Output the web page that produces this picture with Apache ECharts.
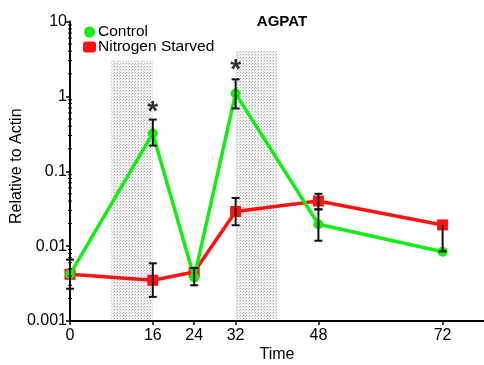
<!DOCTYPE html>
<html>
<head>
<meta charset="utf-8">
<script src="https://cdn.jsdelivr.net/npm/echarts@6/dist/echarts.min.js"></script>
<style>
  html, body { margin: 0; padding: 0; background: #fff; }
  #chart { width: 484px; height: 365px; }
</style>
</head>
<body>
<div id="chart"></div>
<script>
// Sampling times (h) and expression relative to actin
var times = [0, 16, 24, 32, 48, 72];
var controlMean = [0.0042, 0.32, 0.0038, 1.09, 0.0196, 0.0084];
var controlLow  = [0.0027, 0.22, 0.0030, 0.69, 0.0118, null];
var controlHigh = [0.0066, 0.49, 0.0051, 1.69, 0.031, null];
var starvedMean = [0.0042, 0.0035, 0.0045, 0.029, 0.040, 0.0192];
var starvedLow  = [null, 0.0021, null, 0.019, 0.031, 0.0085];
var starvedHigh = [null, 0.0059, null, 0.044, 0.050, null];

// Dark periods (shaded)
var shadeStart = [8, 32];
var shadeEnd   = [16, 40];
var shadeTop   = [3, 4];

// Significance marks
var starX = [16, 32];
var starY = [0.62, 2.2];

var xTicks = [0, 16, 24, 32, 48, 72];
var yMinorTicks = [];
[0.001, 0.01, 0.1, 1].forEach(function (d) {
  for (var k = 2; k <= 9; k++) yMinorTicks.push(+(d * k).toPrecision(3));
});

var FONT = 'Liberation Sans, Arial, sans-serif';

// stipple fill for shaded periods
var pat = document.createElement('canvas');
pat.width = 3; pat.height = 3;
var pc = pat.getContext('2d');
pc.fillStyle = '#f2f2f2'; pc.fillRect(0, 0, 3, 3);
pc.fillStyle = '#a8a8a8'; pc.fillRect(0, 0, 1, 1);
pc.fillStyle = '#cccccc'; pc.fillRect(2, 1, 1, 1);

function pairs(xs, ys) {
  return xs.map(function (x, i) { return [x, ys[i]]; });
}
function errData(mean, low, high) {
  return times.map(function (t, i) { return [t, mean[i], low[i], high[i]]; });
}

function renderErr(params, api) {
  var x = api.value(0), m = api.value(1), lo = api.value(2), hi = api.value(3);
  var hasLo = !isNaN(lo) && lo != null && lo > 0;
  var hasHi = !isNaN(hi) && hi != null && hi > 0;
  if (!hasLo && !hasHi) return;
  var pLo = api.coord([x, hasLo ? lo : m]);
  var pHi = api.coord([x, hasHi ? hi : m]);
  var w = 4;
  var children = [{
    type: 'line',
    shape: { x1: pLo[0], y1: pLo[1], x2: pHi[0], y2: pHi[1] },
    style: { stroke: '#111', lineWidth: 2 }
  }];
  if (hasLo) children.push({
    type: 'line', shape: { x1: pLo[0] - w, y1: pLo[1], x2: pLo[0] + w, y2: pLo[1] },
    style: { stroke: '#111', lineWidth: 2 }
  });
  if (hasHi) children.push({
    type: 'line', shape: { x1: pHi[0] - w, y1: pHi[1], x2: pHi[0] + w, y2: pHi[1] },
    style: { stroke: '#111', lineWidth: 2 }
  });
  return { type: 'group', children: children };
}

var chart = echarts.init(document.getElementById('chart'), null, { renderer: 'canvas' });

chart.setOption({
  animation: false,
  backgroundColor: '#fff',
  title: {
    text: 'AGPAT', left: 277, top: 9, textAlign: 'center',
    textStyle: { fontFamily: FONT, fontSize: 15, fontWeight: 'bold', color: '#000' }
  },
  legend: {
    left: 78, top: 19, orient: 'vertical', itemGap: -1,
    itemWidth: 13, itemHeight: 11,
    textStyle: { fontFamily: FONT, fontSize: 15.5, lineHeight: 13, color: '#000', padding: [0, 0, 0, -3] },
    data: [
      { name: 'Control', icon: 'circle', itemStyle: { color: '#11ee11' } },
      { name: 'Nitrogen Starved', icon: 'roundRect', itemStyle: { color: '#ff1111' } }
    ]
  },
  grid: { left: 70, right: 0, top: 21.5, bottom: 44, containLabel: false, outerBoundsMode: 'none' },
  xAxis: {
    type: 'value', min: 0, max: 80,
    name: 'Time', nameLocation: 'middle', nameGap: 26, nameMoveOverlap: false,
    nameTextStyle: { fontFamily: FONT, fontSize: 16, color: '#000' },
    axisLine: { lineStyle: { color: '#000', width: 2 } },
    axisTick: { show: true, customValues: xTicks, length: 4, lineStyle: { color: '#000', width: 1.5 } },
    axisLabel: { customValues: xTicks, fontFamily: FONT, fontSize: 16, color: '#000', margin: 7 },
    splitLine: { show: false }
  },
  yAxis: {
    type: 'log', logBase: 10, min: 0.001, max: 10,
    name: 'Relative to Actin', nameLocation: 'middle', nameGap: 45, nameRotate: 90, nameMoveOverlap: false,
    nameTextStyle: { fontFamily: FONT, fontSize: 16, color: '#000', padding: [0, 0, 0, 10] },
    axisLine: { show: true, lineStyle: { color: '#000', width: 2 } },
    axisTick: { show: true, length: 4, lineStyle: { color: '#000', width: 1.5 } },
    axisLabel: {
      fontFamily: FONT, fontSize: 16, color: '#000', margin: 3,
      formatter: function (v) { return String(+v.toPrecision(3)); }
    },
    splitLine: { show: false }
  },
  series: [
    {
      name: 'shade', type: 'custom', z: 1, silent: true,
      data: shadeStart.map(function (s, i) { return [s, shadeEnd[i], shadeTop[i]]; }),
      renderItem: function (params, api) {
        var p0 = api.coord([api.value(0), api.value(2)]);
        var p1 = api.coord([api.value(1), 0.001]);
        return {
          type: 'rect',
          shape: { x: p0[0], y: p0[1], width: p1[0] - p0[0], height: p1[1] - p0[1] - 2 },
          style: { fill: { image: pat, repeat: 'repeat' } }
        };
      }
    },
    {
      name: 'minorTicks', type: 'custom', z: 5, silent: true,
      data: yMinorTicks.map(function (v) { return [0, v]; }),
      renderItem: function (params, api) {
        var p = api.coord([0, api.value(1)]);
        return {
          type: 'line',
          shape: { x1: p[0] - 2, y1: p[1], x2: p[0] + 2, y2: p[1] },
          style: { stroke: '#000', lineWidth: 1 }
        };
      }
    },
    {
      name: 'Nitrogen Starved', type: 'line', z: 3,
      data: pairs(times, starvedMean),
      symbol: 'rect', symbolSize: 11, showAllSymbol: true,
      lineStyle: { color: '#ff1111', width: 3.5 },
      itemStyle: { color: '#ff1111' }
    },
    {
      name: 'Control', type: 'line', z: 4,
      data: pairs(times, controlMean),
      symbol: 'circle', symbolSize: 10, showAllSymbol: true,
      lineStyle: { color: '#11ee11', width: 3.5 },
      itemStyle: { color: '#11ee11' }
    },
    {
      name: 'errStarved', type: 'custom', z: 6, silent: true,
      data: errData(starvedMean, starvedLow, starvedHigh),
      renderItem: renderErr
    },
    {
      name: 'errControl', type: 'custom', z: 6, silent: true,
      data: errData(controlMean, controlLow, controlHigh),
      renderItem: renderErr
    },
    {
      name: 'stars', type: 'scatter', z: 7, silent: true,
      data: pairs(starX, starY), symbolSize: 0,
      label: {
        show: true, position: 'inside', formatter: '*',
        fontFamily: FONT, fontSize: 28, fontWeight: 'bold', color: '#000'
      }
    }
  ]
});
</script>
</body>
</html>
